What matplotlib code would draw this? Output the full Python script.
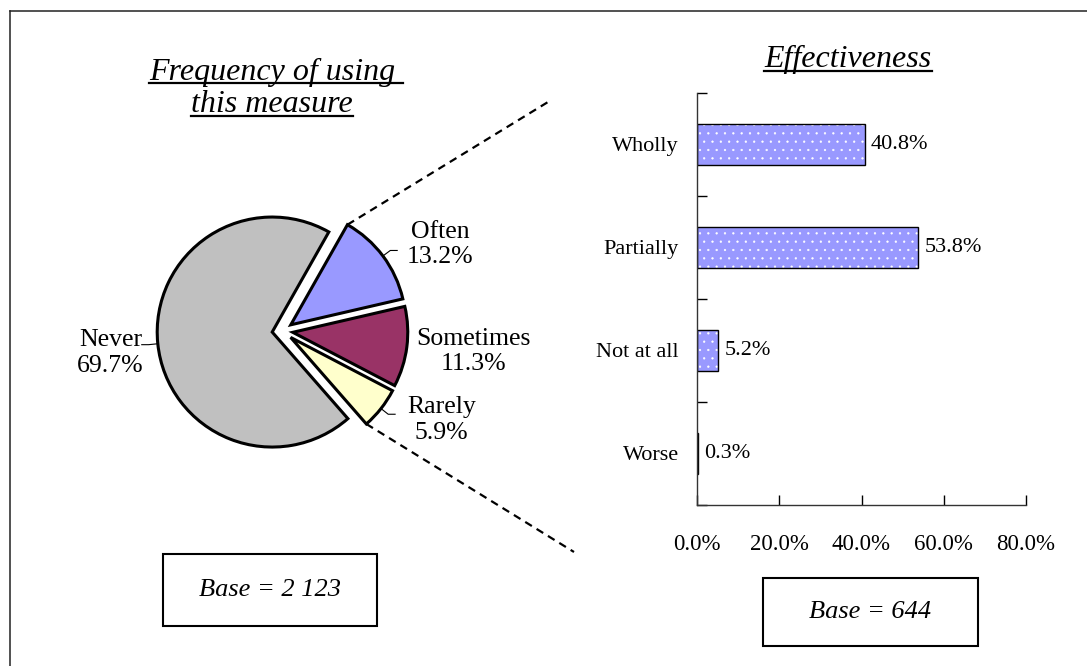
import numpy as np
import matplotlib
matplotlib.use("Agg")
import matplotlib.pyplot as plt
from matplotlib.lines import Line2D
from matplotlib.patches import Rectangle

plt.rcParams['font.family'] = ['Liberation Serif', 'DejaVu Serif']
plt.rcParams['hatch.linewidth'] = 0.4

# pie data: frequency of using this measure
freq_labels = ["Often", "Sometimes", "Rarely", "Never"]
freq_values = [13.2, 11.3, 5.9, 69.7]
freq_colors = ["#9999FF", "#993366", "#FFFFCC", "#C0C0C0"]
freq_base = "Base = 2 123"

# bar data: effectiveness
eff_labels = ["Wholly", "Partially", "Not at all", "Worse"]
eff_values = [40.8, 53.8, 5.2, 0.3]
eff_ticks = [0, 20, 40, 60, 80]
eff_base = "Base = 644"

W, H = 1087, 666
fig = plt.figure(figsize=(W / 100, H / 100), dpi=100)

def fx(px):
    return px / W

def fy(py):
    return 1 - py / H

# outer frame (only left and top edges are inside the picture)
fig.add_artist(Line2D([fx(10), fx(10)], [0, fy(11)], color="#222222", lw=1.1))
fig.add_artist(Line2D([fx(10), 1], [fy(11), fy(11)], color="#222222", lw=1.1))

# ---------------- pie ----------------
R = 115.0
cx, cy = 282.5, 331.0
half = 150.0
ax_pie = fig.add_axes([fx(cx - half), fy(cy + half), 2 * half / W, 2 * half / H])
wedges, _ = ax_pie.pie(freq_values, colors=freq_colors, startangle=60.5,
                       counterclock=False, explode=[0.09] * 4,
                       wedgeprops=dict(edgecolor="black", linewidth=2.2))
lim = half / R
ax_pie.set_xlim(-lim, lim)
ax_pie.set_ylim(-lim, lim)
ax_pie.set_aspect("equal")

# label placement (text centres, data units) and which labels get a leader
label_pos = [(1.37, 0.75), (1.66, -0.18), (1.38, -0.775), (-1.495, -0.19)]
leader = [True, False, True, True]
for w, name, v, pos, ld in zip(wedges, freq_labels, freq_values, label_pos, leader):
    ax_pie.text(pos[0], pos[1], f"{name}\n{v:.1f}%", ha="center", va="center",
                multialignment="center", fontsize=18.5, linespacing=1.2)
    if ld:
        mid = np.deg2rad((w.theta1 + w.theta2) / 2)
        c = np.array(w.center)
        d = np.array([np.cos(mid), np.sin(mid)])
        p0 = c + d * 1.0
        p1 = c + d * 1.08
        side = 1 if d[0] > 0 else -1
        p2 = p1 + np.array([side * 0.06, 0])
        ax_pie.plot([p0[0], p1[0], p2[0]], [p0[1], p1[1], p2[1]], color="black", lw=0.8)

# dashed lines from the small slices towards the bar chart
fig.canvas.draw()
to_fig = fig.transFigure.inverted()
w_often = wedges[0]
w_rare = wedges[2]
a_top = np.deg2rad(w_often.theta2)
a_bot = np.deg2rad(w_rare.theta1)
p_top = np.array(w_often.center) + np.array([np.cos(a_top), np.sin(a_top)])
p_bot = np.array(w_rare.center) + np.array([np.cos(a_bot), np.sin(a_bot)])
s_top = to_fig.transform(ax_pie.transData.transform(p_top))
s_bot = to_fig.transform(ax_pie.transData.transform(p_bot))
fig.add_artist(Line2D([s_top[0], fx(548)], [s_top[1], fy(102)], color="black",
                      lw=1.6, linestyle=(0, (3.5, 2.5))))
fig.add_artist(Line2D([s_bot[0], fx(574)], [s_bot[1], fy(552)], color="black",
                      lw=1.6, linestyle=(0, (3.5, 2.5))))

# ---------------- bars ----------------
ax_bar = fig.add_axes([fx(697), fy(505), 329 / W, 412 / H])
y = np.arange(len(eff_labels))
ax_bar.barh(y, eff_values, height=0.4, color="#9999FF", edgecolor="white",
            hatch="..", linewidth=0)
ax_bar.barh(y, eff_values, height=0.4, fill=False, edgecolor="black", linewidth=1.0)
for yi, v in zip(y, eff_values):
    ax_bar.text(v + 1.5, yi, f"{v:.1f}%", va="center", ha="left", fontsize=16)

ax_bar.set_xlim(0, 80)
ax_bar.set_ylim(len(eff_labels) - 0.5, -0.5)
ax_bar.set_xticks(eff_ticks)
ax_bar.set_xticklabels([f"{t:.1f}%" for t in eff_ticks], fontsize=16.5)
ax_bar.set_yticks(y)
ax_bar.set_yticklabels(eff_labels, fontsize=16)
ax_bar.set_yticks(np.arange(len(eff_labels) + 1) - 0.5, minor=True)
ax_bar.tick_params(axis="y", which="major", length=0, pad=13)
ax_bar.tick_params(axis="y", which="minor", length=7, direction="in", width=1)
ax_bar.tick_params(axis="x", length=7, direction="in", width=1, pad=21)
for s in ["top", "right"]:
    ax_bar.spines[s].set_visible(False)
for s in ["left", "bottom"]:
    ax_bar.spines[s].set_linewidth(1.0)
    ax_bar.spines[s].set_color("#333333")

# ---------------- titles ----------------
t1 = fig.text(fx(272), fy(80), "Frequency of using", ha="center", va="baseline",
              style="italic", fontsize=23)
t2 = fig.text(fx(272), fy(112), "this measure", ha="center", va="baseline",
              style="italic", fontsize=23)
t3 = fig.text(fx(848), fy(67), "Effectiveness", ha="center", va="baseline",
              style="italic", fontsize=23)
fig.canvas.draw()
rend = fig.canvas.get_renderer()
for t, uy, extra in [(t1, 83, 8), (t2, 116, 0), (t3, 71, 0)]:
    bb = t.get_window_extent(rend)
    fig.add_artist(Line2D([bb.x0 / W, (bb.x1 + extra) / W], [fy(uy), fy(uy)],
                          color="black", lw=1.6))

# ---------------- base boxes ----------------
for (x0, y0, x1, y1), txt in [((163, 554, 377, 626), freq_base),
                              ((763, 578, 978, 646), eff_base)]:
    fig.add_artist(Rectangle((fx(x0), fy(y1)), (x1 - x0) / W, (y1 - y0) / H,
                             fill=False, edgecolor="black", lw=1.5,
                             transform=fig.transFigure))
    fig.text(fx((x0 + x1) / 2), fy((y0 + y1) / 2), txt, ha="center", va="center",
             style="italic", fontsize=19)

fig.savefig("out.png", dpi=100)
